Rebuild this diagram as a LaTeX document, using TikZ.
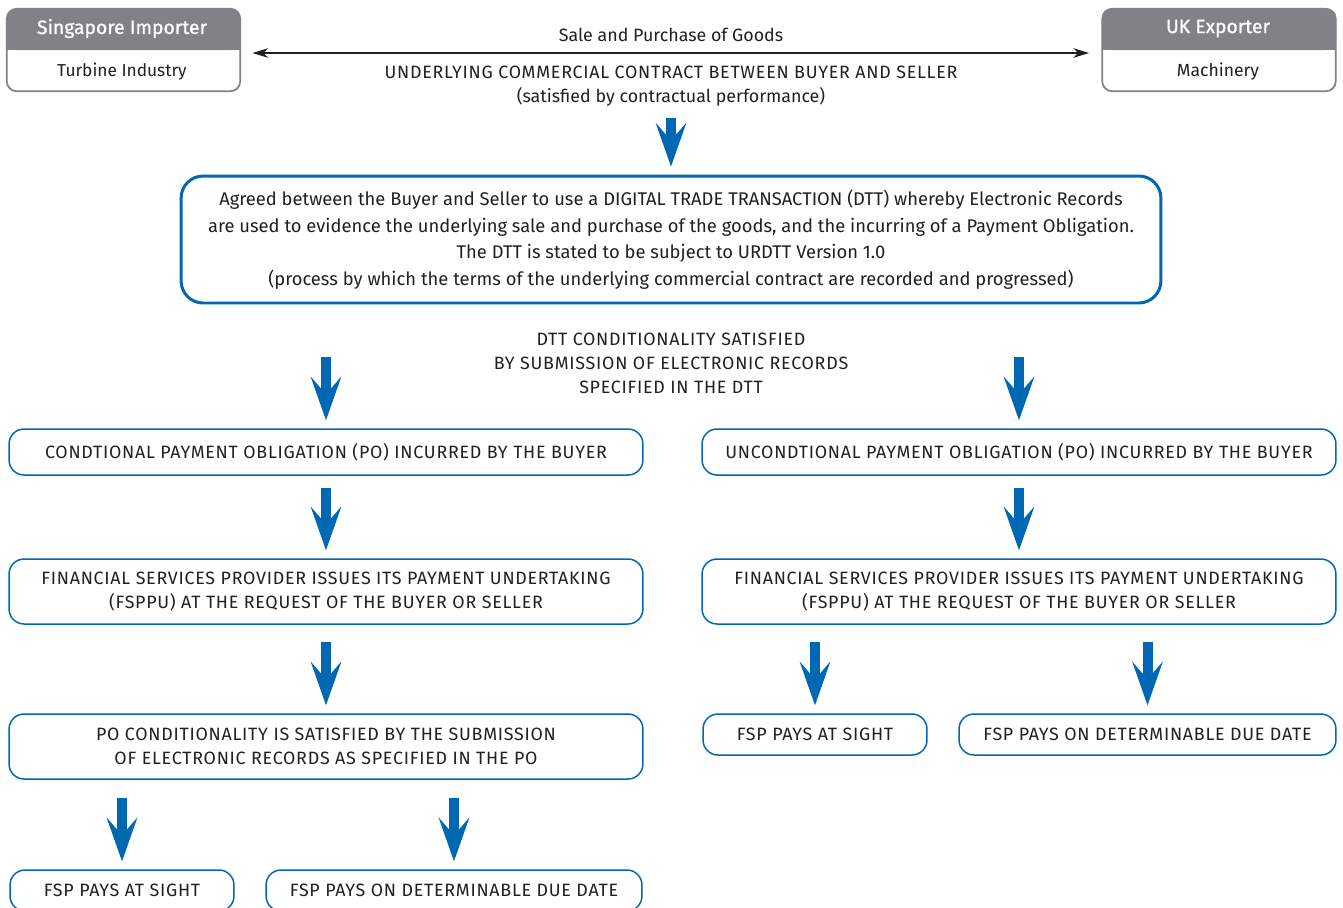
\documentclass[tikz,border=0pt]{standalone}
\usepackage{fontspec}
\setmainfont{Fira Sans}
\usetikzlibrary{calc,arrows.meta}
\definecolor{dttblue}{HTML}{0068B3}
\definecolor{partygray}{HTML}{808285}
\definecolor{inkgray}{HTML}{231F20}
\newcommand{\capsfont}{\fontsize{10.15}{13.6}\selectfont\addfontfeatures{LetterSpace=4.2}}

\tikzset{
  party/.style={draw=partygray, line width=0.6pt, rounded corners=0.2cm, minimum width=4.66cm, minimum height=1.64cm},
  partyname/.style={text=white, font=\fontsize{11}{12}\selectfont\addfontfeatures{FakeBold=1}},
  stepbox/.style={draw=dttblue, line width=0.85pt, rounded corners=0.3cm, text=inkgray, align=center, font=\capsfont},
  flow/.style={draw=dttblue, line width=5.7pt, -{Stealth[length=25pt, width=17.6pt, inset=10.2pt, line width=0pt]}, shorten >=0.16cm},
  plain/.style={text=inkgray, align=center, font=\fontsize{10.15}{13.6}\selectfont}
}

\begin{document}
\begin{tikzpicture}[x=0.02cm, y=-0.02cm]
		%%%%% START %%%%%
		\useasboundingbox (0,0) rectangle (1343,907);
		
		% buyer and seller
		\node[party] (sing) at (123.5,50) {};
		\node[party] (uk) at (1219,50) {};
		\foreach \p in {sing,uk}{
			\fill[partygray, rounded corners=0.2cm] (\p.north west) rectangle (\p.east);
			\fill[partygray] ($(\p.west)+(0,-20)$) rectangle (\p.east);
			\draw[partygray, line width=0.6pt, rounded corners=0.2cm] (\p.north west) rectangle (\p.south east);
		}
		\node[partyname] (singname) at (122,28.5) {Singapore Importer};
		\node[plain, font=\fontsize{9.85}{12}\selectfont] (singgoods) at (122,72) {Turbine Industry};
		\node[partyname] (ukname) at (1218,28.5) {UK Exporter};
		\node[plain, font=\fontsize{10}{12}\selectfont] (ukgoods) at (1218,72) {Machinery};
		
		\draw[line width=0.6pt, color=inkgray, {Stealth[length=9pt, width=5.5pt]}-{Stealth[length=9pt, width=5.5pt]}, shorten <=0.24cm, shorten >=0.26cm] ($(sing.east)+(0,3)$) -- ($(uk.west)+(0,3)$);
		\node[plain] (sale) at (671,35) {Sale and Purchase of Goods};
		\node[plain] (contract) at (671,86) {{\capsfont UNDERLYING COMMERCIAL CONTRACT BETWEEN BUYER AND SELLER}\\(satisfied by contractual performance)};
		
		% digital trade transaction
		\node[stepbox, line width=1.7pt, rounded corners=0.44cm, minimum width=19.6cm, minimum height=2.54cm, font=\fontsize{10.45}{15.1}\selectfont] (dttbox) at (671,239.5) {Agreed between the Buyer and Seller to use a DIGITAL TRADE TRANSACTION (DTT) whereby Electronic Records\\are used to evidence the underlying sale and purchase of the goods, and the incurring of a Payment Obligation.\\The DTT is stated to be subject to URDTT Version 1.0\\(process by which the terms of the underlying commercial contract are recorded and progressed)};
		\draw[flow, shorten <=0.12cm] (contract.south) -- (dttbox.north);
		
		\node[plain, font=\capsfont] (cond) at (671,363) {DTT CONDITIONALITY SATISFIED\\BY SUBMISSION OF ELECTRONIC RECORDS\\SPECIFIED IN THE DTT};
		
		% conditional side
		\node[stepbox, minimum width=12.68cm, minimum height=0.92cm] (cpo) at (326,452) {CONDTIONAL PAYMENT OBLIGATION (PO) INCURRED BY THE BUYER};
		\node[stepbox, minimum width=12.68cm, minimum height=1.3cm] (fspl) at (326,591.5) {FINANCIAL SERVICES PROVIDER ISSUES ITS PAYMENT UNDERTAKING\\(FSPPU) AT THE REQUEST OF THE BUYER OR SELLER};
		\node[stepbox, minimum width=12.68cm, minimum height=1.3cm] (pocond) at (326,746.5) {PO CONDITIONALITY IS SATISFIED BY THE SUBMISSION\\OF ELECTRONIC RECORDS AS SPECIFIED IN THE PO};
		\node[stepbox, minimum width=4.48cm, minimum height=0.82cm] (sightl) at (122,890.5) {FSP PAYS AT SIGHT};
		\node[stepbox, minimum width=7.52cm, minimum height=0.82cm] (duel) at (454,890.5) {FSP PAYS ON DETERMINABLE DUE DATE};
		
		% unconditional side
		\node[stepbox, minimum width=12.68cm, minimum height=0.92cm] (upo) at (1019,452) {UNCONDTIONAL PAYMENT OBLIGATION (PO) INCURRED BY THE BUYER};
		\node[stepbox, minimum width=12.68cm, minimum height=1.3cm] (fspr) at (1019,591.5) {FINANCIAL SERVICES PROVIDER ISSUES ITS PAYMENT UNDERTAKING\\(FSPPU) AT THE REQUEST OF THE BUYER OR SELLER};
		\node[stepbox, minimum width=4.48cm, minimum height=0.82cm] (sightr) at (815,734.5) {FSP PAYS AT SIGHT};
		\node[stepbox, minimum width=7.54cm, minimum height=0.82cm] (duer) at (1147.5,734.5) {FSP PAYS ON DETERMINABLE DUE DATE};
		
		% blue arrows
		\draw[flow, shorten <=1.06cm] (dttbox.south -| cpo.north) -- (cpo.north);
		\draw[flow, shorten <=1.06cm] (dttbox.south -| upo.north) -- (upo.north);
		\draw[flow, shorten <=0.24cm] (cpo.south) -- (fspl.north);
		\draw[flow, shorten <=0.24cm] (upo.south) -- (fspr.north);
		\draw[flow, shorten <=0.34cm] (fspl.south) -- (pocond.north);
		\draw[flow, shorten <=0.34cm] (fspr.south -| sightr.north) -- (sightr.north);
		\draw[flow, shorten <=0.34cm] (fspr.south -| duer.north) -- (duer.north);
		\draw[flow, shorten <=0.36cm] (pocond.south -| sightl.north) -- (sightl.north);
		\draw[flow, shorten <=0.36cm] (pocond.south -| duel.north) -- (duel.north);
		
		%%%%% END %%%%%
	\end{tikzpicture}
\end{document}
